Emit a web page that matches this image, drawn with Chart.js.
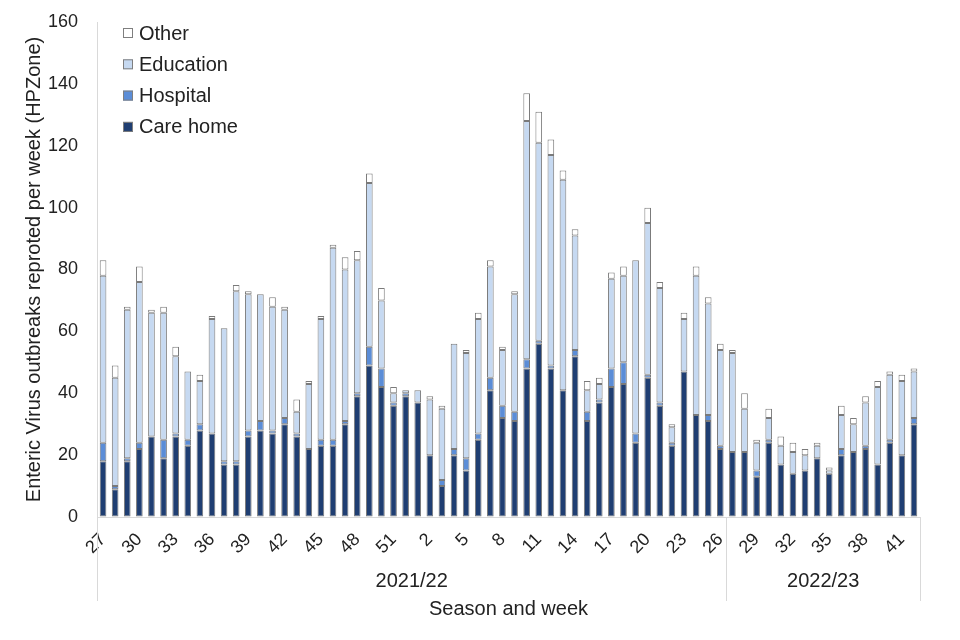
<!DOCTYPE html>
<html>
<head>
<meta charset="utf-8">
<script src="https://cdn.jsdelivr.net/npm/chart.js@4.4.0/dist/chart.umd.min.js"></script>
<style>
  html, body { margin: 0; padding: 0; background: #fff; }
</style>
</head>
<body>
<canvas id="myChart" width="960" height="640"></canvas>
<script>
// weeks: 2021/22 season wk27-52, 1-26, then 2022/23 season wk27-42
const weeks = [27,28,29,30,31,32,33,34,35,36,37,38,39,40,41,42,43,44,45,46,47,48,49,50,51,52,
    1,2,3,4,5,6,7,8,9,10,11,12,13,14,15,16,17,18,19,20,21,22,23,24,25,26,
    27,28,29,30,31,32,33,34,35,36,37,38,39,40,41,42];

const seasons = ['2021/22', '2022/23'];
const seasonSizes = [52, 16];

const careHome = [18,9,18,22,26,19,26,23,28,27,17,17,26,28,27,30,26,22,23,23,30,39,49,42,36,39,
    37,20,10,20,15,25,41,32,31,48,56,48,41,52,31,37,42,43,24,45,36,23,47,33,31,22,
    21,21,13,24,17,14,15,19,14,20,21,22,17,24,20,30];
const hospital = [6,1,1,2,0,6,1,2,2,0,1,1,2,3,1,2,1,0,2,2,1,1,6,6,1,1,
    0,0,2,2,4,2,4,4,3,3,1,1,0,2,3,1,6,7,3,1,1,1,0,0,2,1,
    0,0,2,1,0,0,0,0,0,2,0,1,0,1,0,2];
const education = [54,35,48,52,40,41,25,22,14,37,43,55,44,41,40,35,7,21,39,62,49,43,53,22,3,1,
    4,18,23,34,34,37,36,18,38,77,64,68,68,37,7,5,29,28,56,49,37,5,17,45,36,31,
    32,14,9,7,6,7,5,4,1,11,9,14,25,21,24,15];
const other = [5,4,1,5,1,2,3,0,2,1,0,2,1,0,3,1,4,1,1,1,4,3,3,4,2,0,
    0,1,1,0,1,2,2,1,1,9,10,5,3,2,3,2,2,3,0,5,2,1,2,3,2,2,
    1,5,1,3,3,3,2,1,1,3,2,2,2,1,2,1];

const txt = '#222';
const fontFam = '"Liberation Sans", Arial, sans-serif';
Chart.defaults.font.family = fontFam;
Chart.defaults.color = txt;

// season labels under the week ticks, with divider lines
const seasonAxis = {
    id: 'seasonAxis',
    afterDraw(chart) {
        const ctx = chart.ctx;
        const x = chart.scales.x;
        const half = (x.getPixelForValue(1) - x.getPixelForValue(0)) / 2;
        let start = 0;
        ctx.save();
        ctx.strokeStyle = '#d9d9d9';
        ctx.lineWidth = 1;
        ctx.fillStyle = txt;
        ctx.font = '20px ' + fontFam;
        ctx.textAlign = 'center';
        ctx.textBaseline = 'middle';
        const bottom = chart.chartArea.bottom;
        const lines = [x.getPixelForValue(0) - half];
        seasons.forEach((s, i) => {
            const end = start + seasonSizes[i] - 1;
            const l = x.getPixelForValue(start) - half;
            const r = x.getPixelForValue(end) + half;
            lines.push(r);
            ctx.fillText(s, (l + r) / 2, bottom + 64);
            start = end + 1;
        });
        lines.forEach(px => {
            ctx.beginPath();
            ctx.moveTo(Math.round(px) + 0.5, bottom);
            ctx.lineTo(Math.round(px) + 0.5, bottom + 84);
            ctx.stroke();
        });
        ctx.restore();
    }
};

// vertical legend in the top-left of the plot, top item = last dataset
const boxLegend = {
    id: 'boxLegend',
    afterDraw(chart) {
        const ctx = chart.ctx;
        const ds = chart.data.datasets.slice().reverse();
        ctx.save();
        ctx.font = '20px ' + fontFam;
        ctx.textBaseline = 'middle';
        ds.forEach((d, i) => {
            const y = 33 + i * 31.3;
            ctx.fillStyle = d.backgroundColor;
            ctx.fillRect(123, y - 5, 10, 10);
            ctx.strokeStyle = '#7f7f7f';
            ctx.lineWidth = 1;
            ctx.strokeRect(123.5, y - 4.5, 9, 9);
            ctx.fillStyle = txt;
            ctx.fillText(d.label, 139, y + 1);
        });
        ctx.restore();
    }
};

const ctx = document.getElementById('myChart').getContext('2d');

const chart = new Chart(ctx, {
    type: 'bar',
    data: {
        labels: weeks.map(String),
        datasets: [{
            label: 'Care home',
            data: careHome,
            backgroundColor: '#1f3e72',
        }, {
            label: 'Hospital',
            data: hospital,
            backgroundColor: '#5b8dd7',
        }, {
            label: 'Education',
            data: education,
            backgroundColor: '#c6d9f1',
        }, {
            label: 'Other',
            data: other,
            backgroundColor: '#ffffff',
        }]
    },
    options: {
        responsive: false,
        animation: false,
        devicePixelRatio: 1,
        layout: { padding: { top: 22, right: 40, bottom: 0, left: 0 } },
        datasets: {
            bar: {
                borderColor: '#7a7a7a',
                borderWidth: 1,
                borderSkipped: false,
                barPercentage: 0.55,
                categoryPercentage: 1
            }
        },
        plugins: {
            legend: { display: false },
            tooltip: { enabled: false }
        },
        scales: {
            x: {
                stacked: true,
                grid: { display: false, drawTicks: false },
                border: { color: '#d9d9d9' },
                ticks: {
                    autoSkip: false,
                    minRotation: 45,
                    maxRotation: 45,
                    padding: 12,
                    font: { size: 18 },
                    callback: function (val, i) {
                        return i % 3 === 0 ? this.getLabelForValue(val) : '';
                    }
                },
                title: {
                    display: true,
                    text: 'Season and week',
                    font: { size: 20 },
                    padding: { top: 0, bottom: 19 }
                },
                afterFit: s => { s.height = 123; }
            },
            y: {
                stacked: true,
                min: 0,
                max: 160,
                grid: {
                    display: true,
                    drawOnChartArea: false,
                    drawTicks: true,
                    tickLength: 17,
                    tickColor: 'rgba(0,0,0,0)'
                },
                border: { color: '#d9d9d9' },
                ticks: { stepSize: 20, padding: 2, font: { size: 18 } },
                title: {
                    display: true,
                    text: 'Enteric Virus outbreaks reproted per week (HPZone)',
                    font: { size: 20 },
                    padding: { top: 22, bottom: 0 }
                },
                afterFit: s => { s.width = 97; }
            }
        }
    },
    plugins: [seasonAxis, boxLegend]
});
</script>
</body>
</html>
